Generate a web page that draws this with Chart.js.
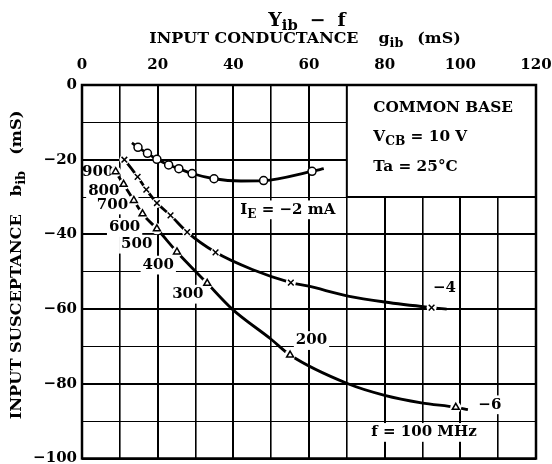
<!DOCTYPE html>
<html>
<head>
<meta charset="utf-8">
<script src="https://cdn.jsdelivr.net/npm/chart.js@4.4.1/dist/chart.umd.min.js"></script>
<style>
  html, body { margin: 0; padding: 0; background: #fff; }
  #wrap { width: 552px; height: 464px; }
</style>
</head>
<body>
<div id="wrap"><canvas id="chart"></canvas></div>
<script>
// Axis ticks (labels shown every 20, grid every 10)
const xTickLabels = [0, 20, 40, 60, 80, 100, 120];
const yTickLabels = [0, -20, -40, -60, -80, -100];

// Frequencies marked along each curve (MHz)
const freqs = [900, 800, 700, 600, 500, 400, 300, 200, 100];

// I_E = -2 mA : measured points (circles) and traced curve
const gibMarkers2 = [14.8, 17.3, 19.8, 22.9, 25.6, 29.1, 34.9, 48.0, 60.8];
const bibMarkers2 = [-16.7, -18.3, -19.9, -21.4, -22.4, -23.7, -25.1, -25.6, -23.1];
const gibCurve2 = [13.2, 14.8, 17.3, 19.8, 22.9, 25.6, 29.1, 34.9, 42.0, 48.0, 60.8, 63.9];
const bibCurve2 = [-15.5, -16.7, -18.3, -19.9, -21.4, -22.4, -23.7, -25.1, -25.7, -25.6, -23.1, -22.4];

// I_E = -4 mA : crosses
const gibMarkers4 = [11.2, 14.7, 17.0, 19.8, 23.4, 27.8, 35.3, 55.2, 92.4];
const bibMarkers4 = [-20.0, -24.6, -28.0, -31.6, -34.9, -39.4, -44.8, -52.9, -59.6];
const gibCurve4 = [10.6, 11.2, 14.7, 17.0, 19.8, 23.4, 27.8, 35.3, 45.0, 55.2, 59.6, 70.3, 80.0, 92.4, 96.4];
const bibCurve4 = [-19.3, -20.0, -24.6, -28.0, -31.6, -34.9, -39.4, -44.8, -49.4, -52.9, -53.8, -56.5, -58.1, -59.6, -60.0];

// I_E = -6 mA : triangles
const gibMarkers6 = [8.9, 11.0, 13.7, 16.0, 19.8, 25.1, 33.1, 55.0, 98.8];
const bibMarkers6 = [-23.2, -26.6, -30.9, -34.5, -38.5, -44.7, -53.1, -72.3, -86.3];
const gibCurve6 = [8.2, 8.9, 11.0, 13.7, 16.0, 19.8, 25.1, 33.1, 39.7, 49.9, 55.0, 70.3, 80.0, 89.7, 98.8, 102.0];
const bibCurve6 = [-22.0, -23.2, -26.6, -30.9, -34.5, -38.5, -44.7, -53.1, -60.0, -68.0, -72.3, -80.0, -83.1, -85.1, -86.3, -86.9];

const FONT = "'DejaVu Serif', 'Liberation Serif', serif";
const MINUS = '\u2212';

const toPts = (xs, ys) => xs.map((x, i) => ({ x: x, y: ys[i] }));

// Text placed on the plot (g, b in axis units), drawn on a white patch
const plotNotes = [
  { parts: [String(freqs[0])], g: 8.3, b: -23.4, align: 'right' },
  { parts: [String(freqs[1])], g: 9.9, b: -28.4, align: 'right' },
  { parts: [String(freqs[2])], g: 12.2, b: -32.1, align: 'right' },
  { parts: [String(freqs[3])], g: 15.4, b: -38.1, align: 'right' },
  { parts: [String(freqs[4])], g: 18.6, b: -42.6, align: 'right' },
  { parts: [String(freqs[5])], g: 24.3, b: -48.2, align: 'right' },
  { parts: [String(freqs[6])], g: 32.1, b: -56.0, align: 'right' },
  { parts: [String(freqs[7])], g: 64.8, b: -68.4, align: 'right' },
  { parts: ['f = ' + freqs[8] + ' MHz'], g: 90.4, b: -93.0, align: 'center' },
  { parts: ['I', ['E'], ' = ' + MINUS + '2 mA'], g: 54.4, b: -33.4, align: 'center' },
  { parts: [MINUS + '4'], g: 95.8, b: -54.4, align: 'center' },
  { parts: [MINUS + '6'], g: 107.8, b: -85.6, align: 'center' }
];

// draw a run of text; a string is normal text, [str] a subscript, a number a gap in px
function drawRich(ctx, parts, x, y, align, size, opts) {
  opts = opts || {};
  const stretch = opts.stretch || 1;
  const subSize = Math.round(size * 0.78);
  const fontOf = p => 'bold ' + (Array.isArray(p) ? subSize : size) + 'px ' + FONT;
  let total = 0;
  const widths = parts.map(p => {
    let w;
    if (typeof p === 'number') w = p;
    else {
      ctx.font = fontOf(p);
      w = ctx.measureText(Array.isArray(p) ? p[0] : p).width * stretch;
    }
    total += w;
    return w;
  });
  let sx = x;
  if (align === 'center') sx = x - total / 2;
  if (align === 'right') sx = x - total;
  if (opts.bg) {
    ctx.fillStyle = '#fff';
    ctx.fillRect(sx - 2, y - size * 0.62, total + 4, size * 1.25);
  }
  ctx.fillStyle = '#000';
  ctx.textBaseline = 'middle';
  ctx.textAlign = 'left';
  parts.forEach((p, i) => {
    if (typeof p !== 'number') {
      const sub = Array.isArray(p);
      ctx.save();
      ctx.font = fontOf(p);
      ctx.translate(sx, sub ? y + size * 0.32 : y);
      ctx.scale(stretch, 1);
      ctx.fillText(sub ? p[0] : p, 0, 0);
      ctx.restore();
    }
    sx += widths[i];
  });
  return total;
}

const decorPlugin = {
  id: 'decor',
  beforeDatasetsDraw(chart) {
    const { ctx, chartArea: a, scales: { x, y } } = chart;
    ctx.save();
    // conditions box in the upper right corner (no grid inside)
    const bx = x.getPixelForValue(70), by = y.getPixelForValue(-30);
    ctx.fillStyle = '#fff';
    ctx.fillRect(bx, a.top, a.right - bx, by - a.top);
    ctx.strokeStyle = '#000';
    ctx.lineWidth = 2;
    ctx.beginPath();
    ctx.moveTo(bx, a.top);
    ctx.lineTo(bx, by);
    ctx.lineTo(a.right, by);
    ctx.stroke();
    const tx = x.getPixelForValue(77);
    const boxOpts = { stretch: 1.02 };
    drawRich(ctx, ['COMMON BASE'], tx, y.getPixelForValue(-6.1), 'left', 15, boxOpts);
    drawRich(ctx, ['V', ['CB'], ' = 10 V'], tx, y.getPixelForValue(-14.0), 'left', 15, boxOpts);
    drawRich(ctx, ['Ta = 25\u00b0C'], tx, y.getPixelForValue(-21.9), 'left', 15, boxOpts);

    plotNotes.forEach(n => {
      drawRich(ctx, n.parts, x.getPixelForValue(n.g), y.getPixelForValue(n.b), n.align, 15, { bg: true });
    });
    ctx.restore();
  },
  afterDraw(chart) {
    const { ctx, chartArea: a } = chart;
    ctx.save();
    ctx.strokeStyle = '#000';
    ctx.lineWidth = 2.5;
    ctx.strokeRect(a.left, a.top, a.right - a.left, a.bottom - a.top);

    // titles
    drawRich(ctx, ['Y', ['ib'], 12, MINUS, 12, 'f'], 307, 21, 'center', 18, { stretch: 1.05 });
    drawRich(ctx, ['INPUT CONDUCTANCE', 20, 'g', ['ib'], 14, '(mS)'], 305, 39, 'center', 15, { stretch: 1.06 });

    ctx.translate(17, 265);
    ctx.rotate(-Math.PI / 2);
    drawRich(ctx, ['INPUT SUSCEPTANCE', 18, 'b', ['ib'], 16, '(mS)'], 0, 0, 'center', 15, { stretch: 1.08 });
    ctx.restore();
  }
};

const lineStyle = {
  showLine: true,
  borderColor: '#000',
  borderWidth: 2.8,
  pointRadius: 0,
  cubicInterpolationMode: 'monotone',
  order: 3
};
const haloStyle = {
  showLine: false,
  pointRadius: 5.5,
  pointBackgroundColor: '#fff',
  pointBorderWidth: 0,
  order: 2
};
const markStyle = {
  showLine: false,
  pointBorderColor: '#000',
  pointBackgroundColor: '#fff',
  pointBorderWidth: 1.5,
  order: 1
};

new Chart(document.getElementById('chart'), {
  type: 'scatter',
  data: {
    datasets: [
      Object.assign({ data: toPts(gibCurve2, bibCurve2) }, lineStyle),
      Object.assign({ data: toPts(gibCurve4, bibCurve4) }, lineStyle),
      Object.assign({ data: toPts(gibCurve6, bibCurve6) }, lineStyle),
      Object.assign({ data: toPts(gibMarkers4, bibMarkers4) }, haloStyle, { pointRadius: 5 }),
      Object.assign({ data: toPts(gibMarkers6, bibMarkers6) }, haloStyle),
      Object.assign({ data: toPts(gibMarkers2, bibMarkers2), pointStyle: 'circle', pointRadius: 4 }, markStyle),
      Object.assign({ data: toPts(gibMarkers4, bibMarkers4), pointStyle: 'crossRot', pointRadius: 4 }, markStyle),
      Object.assign({ data: toPts(gibMarkers6, bibMarkers6), pointStyle: 'triangle', pointRadius: 4 }, markStyle)
    ]
  },
  options: {
    responsive: true,
    maintainAspectRatio: false,
    animation: false,
    events: [],
    layout: { padding: { left: 0, top: 0, right: 16, bottom: 4 } },
    plugins: { legend: { display: false }, tooltip: { enabled: false }, title: { display: false } },
    scales: {
      x: {
        type: 'linear',
        position: 'top',
        min: 0,
        max: 120,
        afterFit: s => { s.height = 85; s.paddingLeft = 0; s.paddingRight = 0; },
        ticks: {
          stepSize: 10,
          padding: 11,
          color: '#000',
          font: { family: FONT, size: 15, weight: 'bold' },
          maxRotation: 0,
          autoSkip: false,
          callback: v => xTickLabels.includes(v) ? String(v) : ''
        },
        grid: {
          drawTicks: false,
          color: '#000',
          lineWidth: c => (c.tick && c.tick.value % 20 === 0) ? 2 : 1.6
        },
        border: { display: false }
      },
      y: {
        type: 'linear',
        min: -100,
        max: 0,
        afterFit: s => { s.width = 82; s.paddingTop = 0; s.paddingBottom = 0; },
        ticks: {
          stepSize: 10,
          padding: 5,
          color: '#000',
          font: { family: FONT, size: 15, weight: 'bold' },
          autoSkip: false,
          callback: v => yTickLabels.includes(v) ? (v < 0 ? MINUS + Math.abs(v) : '0') : ''
        },
        grid: {
          drawTicks: false,
          color: '#000',
          lineWidth: c => (c.tick && c.tick.value % 20 === 0) ? 2 : 1.1
        },
        border: { display: false }
      }
    }
  },
  plugins: [decorPlugin]
});
</script>
</body>
</html>
